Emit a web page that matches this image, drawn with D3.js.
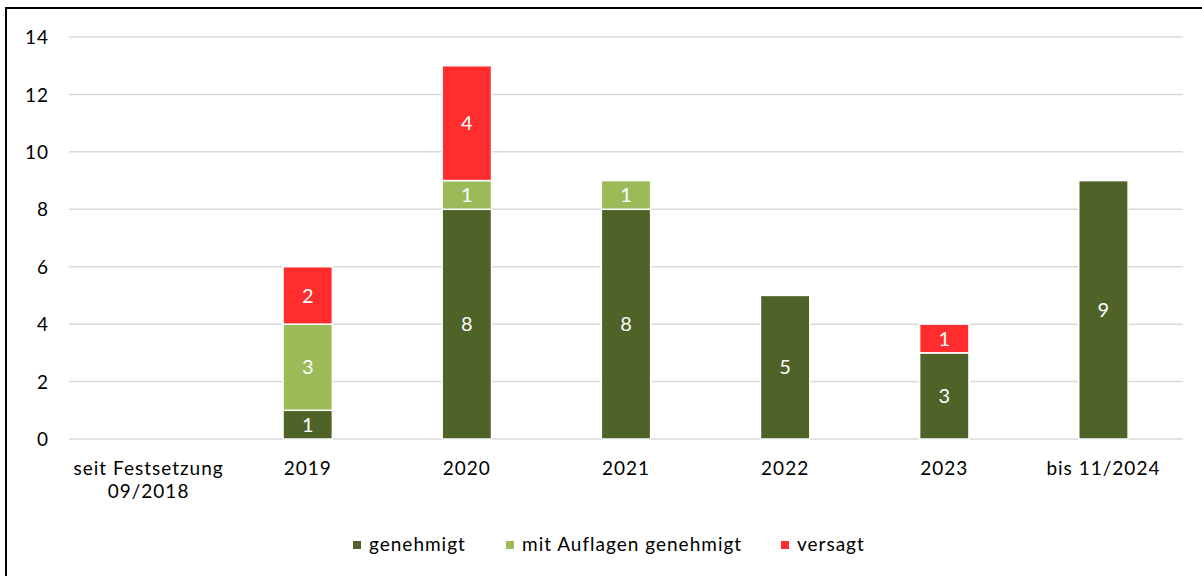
<!DOCTYPE html>
<html>
<head>
<meta charset="utf-8">
<script src="https://cdn.jsdelivr.net/npm/d3@7"></script>
<style>
  body { margin: 0; background: #fff; }
  svg text { font-family: Lato, "Open Sans", sans-serif; fill: #000; }
</style>
</head>
<body>
<svg id="chart" width="1202" height="576"></svg>
<script>
// ---------- Data ---------- //
var categories = ["seit Festsetzung|09/2018", "2019", "2020", "2021", "2022", "2023", "bis 11/2024"];
var genehmigt = [0, 1, 8, 8, 5, 3, 9];
var mitAuflagen = [0, 3, 1, 1, 0, 0, 0];
var versagt = [0, 2, 4, 0, 0, 1, 0];
var seriesNames = ["genehmigt", "mit Auflagen genehmigt", "versagt"];
var seriesColors = ["#4f6228", "#9bbb59", "#ff2d2d"];
var yTicks = [0, 2, 4, 6, 8, 10, 12, 14];

// ---------- Canvas ---------- //
var svg = d3.select("#chart");

// outer frame
svg.append("rect")
    .attr("x", 6)
    .attr("y", 8)
    .attr("width", 1210)
    .attr("height", 580)
    .attr("fill", "none")
    .attr("stroke", "#000")
    .attr("stroke-width", 2);

var x = d3.scaleBand()
    .domain(categories)
    .range([69, 1183])
    .paddingInner(0.69)
    .paddingOuter(0.345);

var y = d3.scaleLinear()
    .domain([0, 14])
    .range([439, 37]);

// gridlines
svg.append("g")
    .selectAll("line")
    .data(yTicks)
    .join("line")
    .attr("x1", 69)
    .attr("x2", 1183)
    .attr("y1", function(d) { return y(d); })
    .attr("y2", function(d) { return y(d); })
    .attr("stroke", "#d9d9d9")
    .attr("stroke-width", 1.5);

// y axis labels
var yAxis = svg.append("g")
    .attr("transform", "translate(49,0)")
    .call(d3.axisLeft(y).tickValues(yTicks).tickSize(0).tickPadding(0));
yAxis.select(".domain").remove();
yAxis.selectAll("text")
    .attr("font-size", "19px")
    .attr("letter-spacing", "1px")
    .attr("dy", "0.35em");

// ---------- Bars ---------- //
var table = categories.map(function(c, i) {
    return { cat: c, genehmigt: genehmigt[i], mit: mitAuflagen[i], versagt: versagt[i] };
});
var stack = d3.stack().keys(["genehmigt", "mit", "versagt"]);
var layers = stack(table);

var layerG = svg.append("g")
    .selectAll("g")
    .data(layers)
    .join("g")
    .attr("fill", function(d, i) { return seriesColors[i]; });

layerG.selectAll("rect")
    .data(function(d) { return d.filter(function(s) { return s[1] - s[0] > 0; }); })
    .join("rect")
    .attr("x", function(d) { return x(d.data.cat); })
    .attr("width", x.bandwidth())
    .attr("y", function(d) { return y(d[1]); })
    .attr("height", function(d) { return y(d[0]) - y(d[1]); })
    .attr("stroke", "#fff")
    .attr("stroke-width", 1.5);

layerG.selectAll("text")
    .data(function(d) { return d.filter(function(s) { return s[1] - s[0] > 0; }); })
    .join("text")
    .attr("x", function(d) { return x(d.data.cat) + x.bandwidth() / 2; })
    .attr("y", function(d) { return (y(d[0]) + y(d[1])) / 2; })
    .attr("dy", "0.36em")
    .attr("text-anchor", "middle")
    .attr("font-size", "20px")
    .style("fill", "#fff")
    .text(function(d) { return d[1] - d[0]; });

// ---------- Category labels ---------- //
var catG = svg.append("g");
categories.forEach(function(c) {
    var lines = c.split("|");
    var t = catG.append("text")
        .attr("x", x(c) + x.bandwidth() / 2)
        .attr("y", 475)
        .attr("text-anchor", "middle")
        .attr("font-size", "19px")
        .attr("letter-spacing", "1px");
    lines.forEach(function(l, j) {
        t.append("tspan")
            .attr("x", x(c) + x.bandwidth() / 2)
            .attr("dy", j === 0 ? 0 : 23)
            .text(l);
    });
});

// ---------- Legend ---------- //
var legendX = [353, 506, 781];
var legend = svg.append("g");
seriesNames.forEach(function(name, i) {
    legend.append("rect")
        .attr("x", legendX[i])
        .attr("y", 541)
        .attr("width", 8)
        .attr("height", 8)
        .attr("fill", seriesColors[i]);
    legend.append("text")
        .attr("x", legendX[i] + 16)
        .attr("y", 551)
        .attr("font-size", "19px")
        .attr("letter-spacing", "1px")
        .text(name);
});
</script>
</body>
</html>
